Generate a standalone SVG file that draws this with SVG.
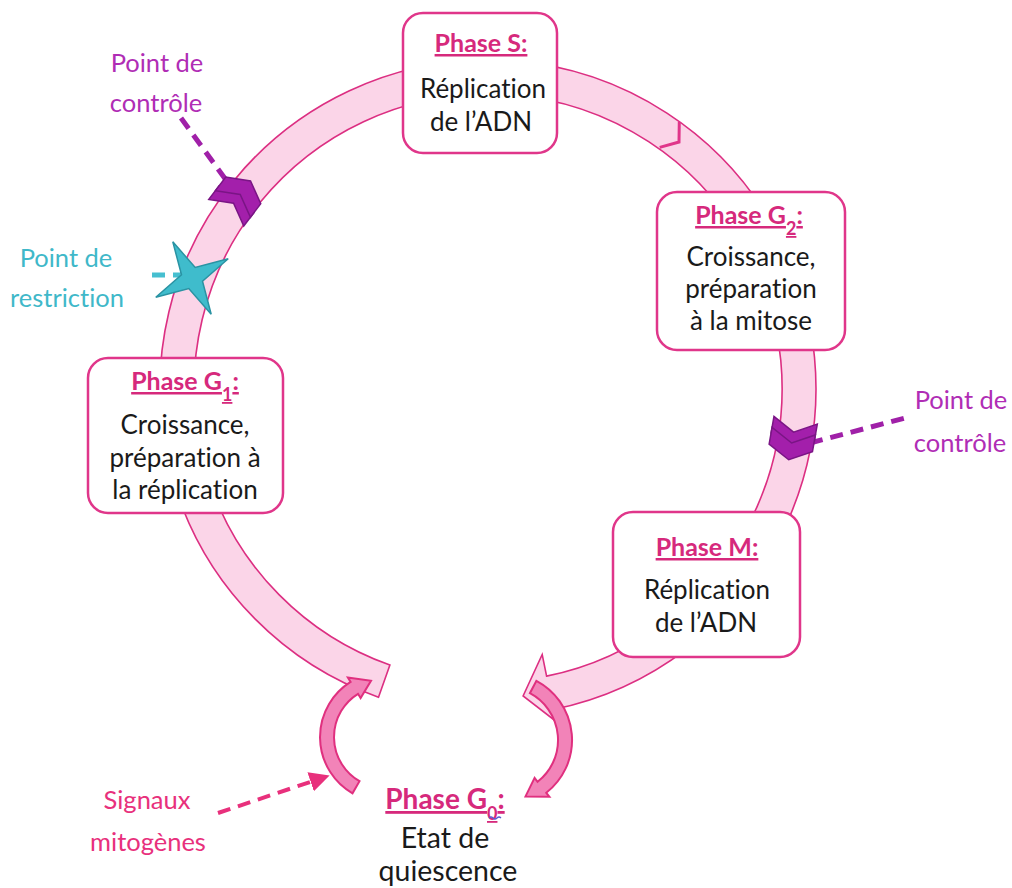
<svg xmlns="http://www.w3.org/2000/svg" width="1012" height="888" viewBox="0 0 1012 888">
<defs>
<style>
text{font-variant-ligatures:none}
.box{fill:#ffffff;stroke:#e0368a;stroke-width:2.5}
.ttl{font-family:Lato,"Liberation Sans",sans-serif;font-weight:bold;font-size:25px;fill:#d6297c;text-anchor:middle;text-decoration:underline}
.txt{font-family:Lato,"Liberation Sans",sans-serif;font-size:26px;fill:#1a1a1a;text-anchor:middle}
.lbl{font-family:Lato,"Liberation Sans",sans-serif;font-size:25.5px;text-anchor:middle}
.purple{fill:#b02db5}
.cyan{fill:#3fb8c9}
.pink{fill:#e8307c}
.chev{fill:#a31fab;stroke:#7a1585;stroke-width:1.5;stroke-linejoin:miter}
.small{fill:#f283b8;stroke:#e0307f;stroke-width:2;stroke-linejoin:miter}
.dash{fill:none;stroke-width:5;stroke-dasharray:13 8}
</style>
<marker id="ah" markerWidth="5" markerHeight="5" refX="3" refY="2.5" orient="auto" markerUnits="strokeWidth"><path d="M0,0 L5,2.5 L0,5 Z" fill="#e8307c"/></marker>
</defs>

<g id="cycle-ring">
<path d="M 378.5 697.2 A 328 328 0 1 1 553.4 709.4 L 555.8 721.2 L 523.1 696 L 542.2 654.5 L 546.6 676.1 A 294 294 0 1 0 389.9 665.1 Z" fill="#fbd5e8" stroke="#dc2f82" stroke-width="1.6"/>
<path d="M -12,-16 L 0,0 L -12,16" transform="translate(679,142) rotate(37.7)" fill="none" stroke="#e0368a" stroke-width="3"/>
</g>

<g id="connectors">
<line class="dash" x1="181" y1="118" x2="226" y2="180" stroke="#a020a8"/>
<line class="dash" x1="152" y1="275" x2="182" y2="275" stroke="#46bfd0"/>
<line class="dash" x1="810" y1="443" x2="905" y2="418" stroke="#a020a8"/>
<line x1="218" y1="813" x2="322" y2="778" stroke="#e8307c" stroke-width="4" stroke-dasharray="13 8" marker-end="url(#ah)"/>
</g>

<g id="checkpoint-1">
<g transform="translate(239,196) rotate(-52.7)">
<path class="chev" d="M -21,-22 L -4,-22 L 8,0 L -4,22 L -21,22 L -9,0 Z"/>
<path class="chev" d="M -10,-22 L 7,-22 L 19,0 L 7,22 L -10,22 L 2,0 Z"/>
</g>
</g>

<g id="checkpoint-2">
<g transform="translate(792,441) rotate(100)">
<path class="chev" d="M -21,-22 L -4,-22 L 8,0 L -4,22 L -21,22 L -9,0 Z"/>
<path class="chev" d="M -10,-22 L 7,-22 L 19,0 L 7,22 L -10,22 L 2,0 Z"/>
</g>
</g>

<g id="restriction-point">
<polygon points="228.2,258.8 202.5,281.2 211.2,314.2 188.8,288.5 155.8,297.2 181.5,274.8 172.8,241.8 195.2,267.5" fill="#3fbccc" stroke="#2a93a3" stroke-width="1.5" stroke-linejoin="miter"/>
</g>

<g id="phase-s">
<rect class="box" x="403" y="13" width="154" height="140" rx="20"/>
<text class="ttl" x="481" y="52">Phase S:</text>
<text class="txt" x="483" y="98">Réplication</text>
<text class="txt" x="481" y="131">de l’ADN</text>
</g>

<g id="phase-g2">
<rect class="box" x="657" y="192" width="188" height="158" rx="20"/>
<text class="ttl" x="749" y="224">Phase G<tspan baseline-shift="sub" font-size="18">2</tspan>:</text>
<text class="txt" x="751" y="266">Croissance,</text>
<text class="txt" x="751" y="298">préparation</text>
<text class="txt" x="751" y="330">à la mitose</text>
</g>

<g id="phase-g1">
<rect class="box" x="88" y="358" width="195" height="155" rx="20"/>
<text class="ttl" x="185" y="390">Phase G<tspan baseline-shift="sub" font-size="18">1</tspan>:</text>
<text class="txt" x="185" y="434">Croissance,</text>
<text class="txt" x="185" y="467">préparation à</text>
<text class="txt" x="185" y="499">la réplication</text>
</g>

<g id="phase-m">
<rect class="box" x="613" y="512" width="187" height="145" rx="20"/>
<text class="ttl" x="707" y="556">Phase M:</text>
<text class="txt" x="707" y="599">Réplication</text>
<text class="txt" x="706" y="632">de l’ADN</text>
</g>

<g id="g0-arrows">
<path class="small" d="M 352.5 793.3 A 65 65 0 0 1 350.6 681.9 L 347.9 677.6 L 371 680.7 L 360.6 698 L 358 693.8 A 51 51 0 0 0 359.5 781.2 Z"/>
<path class="small" d="M 536.4 680.8 A 67 67 0 0 1 546.3 792.8 L 549.4 796.7 L 525.5 796.4 L 534.6 777.8 L 537.6 781.8 A 53 53 0 0 0 529.9 693.2 Z"/>
</g>

<g id="phase-g0">
<text class="ttl" x="445" y="809" style="font-size:28px">Phase G<tspan baseline-shift="sub" font-size="18">0</tspan>:</text>
<path d="M 489 818 q 2 -2 4 0 t 4 0 t 4 0" fill="none" stroke="#5a5ad0" stroke-width="1.2"/>
<text class="txt" x="445" y="848" style="font-size:28.5px">Etat de</text>
<text class="txt" x="448" y="881" style="font-size:28.5px">quiescence</text>
</g>

<g id="labels">
<text class="lbl purple" x="157" y="72">Point de</text>
<text class="lbl purple" x="156" y="112">contrôle</text>
<text class="lbl cyan" x="66" y="267">Point de</text>
<text class="lbl cyan" x="67" y="307">restriction</text>
<text class="lbl purple" x="961" y="409">Point de</text>
<text class="lbl purple" x="960" y="452">contrôle</text>
<text class="lbl pink" x="147" y="809">Signaux</text>
<text class="lbl pink" x="148" y="851">mitogènes</text>
</g>
</svg>
